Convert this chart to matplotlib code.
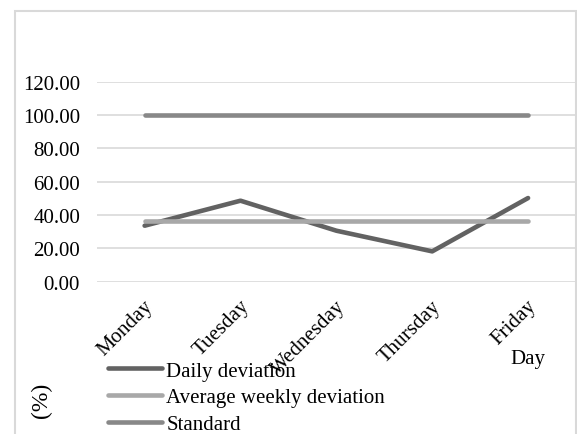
import matplotlib.pyplot as plt
import matplotlib.transforms as mtransforms
from matplotlib.patches import Rectangle
from matplotlib.lines import Line2D

plt.rcParams['font.family'] = ['Liberation Serif', 'DejaVu Serif']

days = ['Monday', 'Tuesday', 'Wednesday', 'Thursday', 'Friday']
daily_dev = [33.6, 48.6, 30.6, 18.2, 50.2]
avg_weekly = [36.2, 36.2, 36.2, 36.2, 36.2]
standard = [100, 100, 100, 100, 100]
yticks = [0, 20, 40, 60, 80, 100, 120]
series_names = ['Daily deviation', 'Average weekly deviation', 'Standard']

W, H = 577, 435
fig = plt.figure(figsize=(W / 100, H / 100), dpi=100)

# outer chart frame
fig.patches.append(Rectangle((15 / W, -0.05), (576 - 15) / W, 1.05 - 12 / H,
                             transform=fig.transFigure, fill=False,
                             edgecolor='#d9d9d9', linewidth=1.5))

ax = fig.add_axes([96.7 / W, 1 - 282.7 / H, (576 - 96.7) / W, 200 / H])
x = range(len(days))
c_daily, c_avg, c_std = '#626262', '#a8a8a8', '#888888'
ax.plot(x, daily_dev, color=c_daily, lw=3.3, solid_capstyle='round', zorder=3)
ax.plot(x, avg_weekly, color=c_avg, lw=3.3, solid_capstyle='round', zorder=3)
ax.plot(x, standard, color=c_std, lw=3.3, solid_capstyle='round', zorder=3)

ax.set_xlim(-0.5, 4.5)
ax.set_ylim(0, 120)
ax.set_yticks(yticks)
ax.set_yticklabels([f'{v:.2f}' for v in yticks], fontsize=15)
ax.yaxis.grid(True, color='#d9d9d9', lw=1.2)
ax.set_axisbelow(True)
ax.tick_params(axis='y', length=0, pad=12)
ax.tick_params(axis='x', length=0, pad=10.5)
ax.set_xticks(list(x))
ax.set_xticklabels(days, fontsize=15, rotation=45, ha='right', va='top',
                   rotation_mode='anchor')
shift = mtransforms.ScaledTranslation(-1 / 100, 0, fig.dpi_scale_trans)
for lbl in ax.get_xticklabels():
    lbl.set_transform(lbl.get_transform() + shift)
for s in ax.spines.values():
    s.set_visible(False)

fig.text(528 / W, 1 - 360 / H, 'Day', fontsize=15, ha='center', va='center')
fig.text(41 / W, 1 - 400 / H, '(%)', fontsize=17, ha='center', va='center', rotation=90)

handles = [Line2D([], [], color=c, lw=3.3, solid_capstyle='round') for c in (c_daily, c_avg, c_std)]
fig.legend(handles, series_names,
           loc='upper left', bbox_to_anchor=(108 / W, 1 - 362 / H), frameon=False,
           fontsize=15, handlelength=2.6, handletextpad=0.2, labelspacing=0.35,
           borderpad=0, borderaxespad=0)

fig.savefig('out.png', dpi=100)
